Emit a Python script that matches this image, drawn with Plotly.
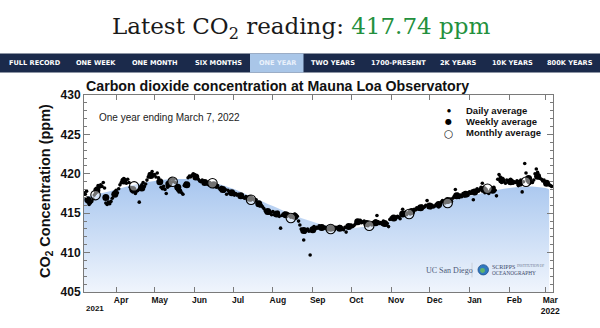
import pandas as pd
import plotly.graph_objects as go

# ---------------- data ----------------
start_date = "2021-03-07"
daily_ppm = [
    417.6, 417.4, 417.8, 416.4, 416.1, 416.3, 416.5,
    416.8, 417.3, 417.5, 418.2, 418.5, 418.3, 418.6,
    418.4, 418.9, 418.2, 416.3, 416.1, 416.4, 416.2,
    416.5, 416.9, 417.4, 417.7, 417.9, 417.6, 418.1,
    418.6, 418.9, 419.2, 419.4, 419.1, 418.8, 419.3,
    418.9, 418.3, 418.0, 417.7, 417.9, 417.5, 417.8,
    417.9, 416.4, 418.3, 418.6, 418.9, 418.4, 418.7,
    419.2, 419.6, 420.0, 419.7, 420.3, 419.8, 419.9,
    419.6, 420.1, 419.5, 418.9, 418.3, 418.1, 418.4,
    418.0, 417.5, 418.3, 418.9, 419.2, 419.4, 419.0,
    419.3, 418.9, 418.4, 417.9, 417.7, 417.9, 417.6,
    417.4, 418.5, 418.8, 418.6, 419.5, 419.7, 419.6,
    419.8, 420.0, 419.9, 419.6, 419.5, 419.3, 419.1,
    419.0, 419.2, 418.9, 418.8, 419.0, 418.7, 418.6,
    418.9, 418.5, 418.7, 418.4, 418.6, 418.3, 418.5,
    418.2, 418.0, 418.3, 417.9, 417.8, 418.0, 417.4,
    417.9, 417.6, 417.7, 417.5, 417.6, 417.3, 417.5,
    417.3, 417.4, 417.2, 417.1, 417.3, 417.0, 416.9,
    417.1, 416.8, 417.0, 416.9, 416.7, 416.9, 416.8,
    416.6, 416.7, 416.3, 416.1, 415.9, 416.0, 415.8,
    415.6, 415.3, 415.1, 415.2, 415.0, 415.1, 414.8,
    415.2, 414.8, 415.0, 414.9, 415.1, 414.6, 413.1,
    414.7, 414.9, 415.0, 414.8, 414.6, 414.9, 414.7,
    414.5, 414.8, 414.6, 414.9, 414.4, 414.6, 414.0,
    413.5, 413.0, 412.8, 411.6, 412.6, 412.9, 413.0,
    412.7, 409.7, 412.9, 413.1, 413.3, 413.0, 413.2,
    413.1, 413.4, 413.2, 413.0, 413.3, 413.1, 413.2,
    413.0, 412.9, 413.2, 413.1, 413.3, 413.0, 412.9,
    413.2, 413.1, 413.0, 413.3, 413.2, 413.0, 412.9,
    413.2, 412.6, 413.3, 413.4, 413.2, 413.5, 413.3,
    413.4, 413.6, 413.8, 414.0, 413.9, 414.1, 413.8,
    413.9, 414.0, 413.7, 413.5, 413.4, 413.6, 413.7,
    413.5, 413.8, 413.6, 414.0, 414.7, 413.9, 413.7,
    413.8, 413.6, 414.0, 413.8, 413.5, 413.7, 413.3,
    414.2, 414.4, 414.3, 414.5, 414.2, 414.4, 414.6,
    414.5, 414.3, 414.8, 415.5, 414.9, 415.1, 414.8,
    415.0, 415.2, 414.9, 415.1, 415.3, 415.5, 415.4,
    415.7, 415.5, 415.8, 415.6, 415.9, 415.7, 415.8,
    416.0, 416.6, 415.8, 415.9, 415.7, 416.0, 415.8,
    415.9, 416.1, 416.0, 415.8, 416.2, 416.4, 416.6,
    416.5, 416.3, 416.7, 416.4, 416.6, 416.8, 416.5,
    416.9, 417.1, 418.0, 417.2, 417.4, 417.0, 417.3,
    417.1, 417.5, 417.2, 417.4, 417.6, 417.3, 417.7,
    417.5, 417.8, 416.7, 417.6, 417.9, 418.1, 417.8,
    418.0, 418.3, 418.8, 417.9, 417.6, 418.0, 417.7,
    417.5, 417.8, 418.0, 418.2, 418.3, 417.9, 417.2,
    419.3, 419.9, 419.6, 418.9, 419.1, 419.0, 418.8,
    419.2, 419.0, 418.9, 419.3, 419.1, 418.8, 419.0,
    418.9, 419.1, 418.5, 419.0, 419.2, 417.7, 419.0,
    421.3, 420.1, 419.1, 418.9, 418.8, 419.0, 418.9,
    419.2, 420.0, 420.6, 420.2, 419.5, 419.4, 419.3,
    419.1, 419.2, 418.9, 418.8, 418.7, 418.6, 418.5,
    418.4,
]

weekly_start = "2021-03-10"
weekly_ppm = [
    416.7, 417.9, 417.0, 417.4, 419.1, 418.0, 418.2, 419.8, 419.0, 418.7,
    418.3, 418.6, 419.6, 418.9, 418.6, 418.0, 417.6, 417.2, 416.9, 416.2,
    415.2, 414.9, 414.8, 414.6, 412.8, 412.9, 413.2, 413.1, 413.1, 413.3,
    413.9, 413.7, 413.8, 413.7, 414.4, 414.9, 415.2, 415.7, 415.9, 416.1,
    416.6, 417.2, 417.4, 417.7, 418.0, 417.9, 419.2, 419.0, 418.8, 419.4,
    419.7, 418.8,
]

monthly_dates = ["2021-03-16", "2021-04-15", "2021-05-15", "2021-06-15",
                 "2021-07-15", "2021-08-15", "2021-09-15", "2021-10-15",
                 "2021-11-15", "2021-12-15", "2022-01-15", "2022-02-14"]
monthly_ppm = [417.3, 418.4, 419.0, 418.8, 416.7, 414.4,
               413.0, 413.4, 414.9, 416.3, 418.1, 419.0]

trend_dates = ["2021-03-07", "2021-03-15", "2021-04-01", "2021-04-15",
               "2021-05-01", "2021-05-15", "2021-06-01", "2021-06-15",
               "2021-07-01", "2021-07-15", "2021-08-01", "2021-08-15",
               "2021-09-01", "2021-09-15", "2021-10-01", "2021-10-15",
               "2021-11-01", "2021-11-15", "2021-12-01", "2021-12-15",
               "2022-01-01", "2022-01-15", "2022-02-01", "2022-02-15",
               "2022-03-01", "2022-03-04"]
trend_ppm = [417.0, 417.3, 418.0, 418.6, 419.1, 419.3, 419.3, 418.9,
             418.1, 417.1, 415.9, 414.9, 413.9, 413.3, 413.1, 413.4,
             414.0, 414.9, 415.8, 416.5, 417.2, 417.7, 418.2, 418.4,
             418.2, 418.0]

month_ticks = ["2021-04-01", "2021-05-01", "2021-06-01", "2021-07-01",
               "2021-08-01", "2021-09-01", "2021-10-01", "2021-11-01",
               "2021-12-01", "2022-01-01", "2022-02-01", "2022-03-01"]
month_labels = ["Apr", "May", "Jun", "Jul", "Aug", "Sep", "Oct", "Nov",
                "Dec", "Jan", "Feb", "Mar<br>2022"]
y_ticks = [405, 410, 415, 420, 425, 430]

nav_labels = ["FULL RECORD", "ONE WEEK", "ONE MONTH", "SIX MONTHS", "ONE YEAR",
              "TWO YEARS", "1700-PRESENT", "2K YEARS", "10K YEARS", "800K YEARS"]
nav_centers = [35, 96, 155, 218, 277, 333, 398, 458, 512, 570]
active_nav = "ONE YEAR"

daily_dates = pd.date_range(start_date, periods=len(daily_ppm), freq="D")
weekly_dates = pd.date_range(weekly_start, periods=len(weekly_ppm), freq="7D")

# ---------------- layout helpers ----------------
W, H = 600, 328
ML, MR, MT, MB = 84, 47, 95, 31
PW, PH = W - ML - MR, H - MT - MB


def px(x):
    return (x - ML) / PW


def py(y):
    return (H - MB - y) / PH


SANS = "Liberation Sans, Arial, sans-serif"
AX = "#7a7a7a"

fig = go.Figure()

fig.add_trace(go.Scatter(
    x=trend_dates, y=trend_ppm, mode="lines",
    line=dict(width=0, shape="spline", smoothing=1.0),
    fill="tozeroy",
    fillgradient=dict(type="vertical",
                      colorscale=[[0, "#f3f7fd"], [1, "#a9c7ef"]],
                      start=405, stop=419.3),
    hoverinfo="skip", name="trend"))

fig.add_trace(go.Scatter(
    x=daily_dates, y=daily_ppm, mode="markers", name="Daily average",
    marker=dict(size=3.6, color="black")))

fig.add_trace(go.Scatter(
    x=weekly_dates, y=weekly_ppm, mode="markers", name="Weekly average",
    marker=dict(size=7, color="black")))

fig.add_trace(go.Scatter(
    x=monthly_dates, y=monthly_ppm, mode="markers", name="Monthly average",
    marker=dict(size=9.5, color="rgba(255,255,255,0.45)",
                line=dict(color="black", width=1.1))))

shapes = []
annotations = []

# header title
annotations.append(dict(
    xref="paper", yref="paper", x=px(301), y=py(26), xanchor="center", yanchor="middle",
    text='Latest CO<sub>2</sub> reading: <span style="color:#23903d">417.74 ppm</span>',
    showarrow=False, font=dict(family="DejaVu Serif, serif", size=23, color="#1a1a1a")))

# navigation bar
shapes.append(dict(type="rect", xref="paper", yref="paper", x0=px(0), x1=px(600),
                   y0=py(72), y1=py(52.5), fillcolor="#1b2a4b", line=dict(width=0)))
shapes.append(dict(type="rect", xref="paper", yref="paper", x0=px(250), x1=px(303.5),
                   y0=py(72), y1=py(52.5), fillcolor="#a9c6e8", line=dict(width=0)))
for lab, cx in zip(nav_labels, nav_centers):
    annotations.append(dict(
        xref="paper", yref="paper", x=px(cx), y=py(62.3), xanchor="center", yanchor="middle",
        text=lab, showarrow=False,
        font=dict(family="DejaVu Sans, sans-serif", size=6.6, weight="bold",
                  color="#e9f1fb" if lab == active_nav else "#ffffff")))

# chart title
annotations.append(dict(
    xref="paper", yref="paper", x=px(84), y=py(85.5), xanchor="left", yanchor="middle",
    text="Carbon dioxide concentration at Mauna Loa Observatory", showarrow=False,
    font=dict(family=SANS, size=14.2, weight="bold", color="#111")))

# subtitle
annotations.append(dict(
    xref="paper", yref="paper", x=px(97), y=py(118.5), xanchor="left", yanchor="middle",
    text="One year ending March 7, 2022", showarrow=False,
    font=dict(family=SANS, size=10, color="#222")))

# y title
annotations.append(dict(
    xref="paper", yref="paper", x=px(46), y=py(193.5), xanchor="center", yanchor="middle",
    text="CO<sub>2</sub> Concentration (ppm)", textangle=-90, showarrow=False,
    font=dict(family=SANS, size=14.5, weight="bold", color="#111")))

# year label at left
annotations.append(dict(
    xref="paper", yref="paper", x=px(84), y=py(313.5), xanchor="left", yanchor="middle",
    text="2021", showarrow=False,
    font=dict(family=SANS, size=8, weight="bold", color="#111")))

# legend (text glyphs)
leg = [("\u25CF", 4.5, "Daily average", 111.0),
       ("\u25CF", 8.0, "Weekly average", 122.3),
       ("\u25CB", 10.5, "Monthly average", 133.8)]
for sym, sz, lab, yy in leg:
    annotations.append(dict(
        xref="paper", yref="paper", x=px(448.5), y=py(yy), xanchor="center", yanchor="middle",
        text=sym, showarrow=False, font=dict(family="DejaVu Sans", size=sz, color="black")))
    annotations.append(dict(
        xref="paper", yref="paper", x=px(464), y=py(yy), xanchor="left", yanchor="middle",
        text=lab, showarrow=False,
        font=dict(family=SANS, size=9.5, weight="bold", color="#111")))

# logos
annotations.append(dict(
    xref="paper", yref="paper", x=px(449), y=py(274.5), xanchor="center", yanchor="middle",
    text="UC San Diego", showarrow=False,
    font=dict(family="Liberation Serif, serif", size=8, color="#4d5a78")))
shapes.append(dict(type="line", xref="paper", yref="paper", x0=px(472), x1=px(472),
                   y0=py(267), y1=py(282), line=dict(color="#c4c8d0", width=0.8)))
shapes.append(dict(type="circle", xref="paper", yref="paper", x0=px(478), x1=px(488.5),
                   y0=py(279.5), y1=py(269), fillcolor="#2f78c0",
                   line=dict(color="#1e4f8a", width=0.8)))
shapes.append(dict(type="circle", xref="paper", yref="paper", x0=px(480), x1=px(485),
                   y0=py(277.5), y1=py(272.5), fillcolor="#5fb36a",
                   line=dict(width=0)))
annotations.append(dict(
    xref="paper", yref="paper", x=px(489.5), y=py(271.2), xanchor="left", yanchor="middle",
    text="SCRIPPS", showarrow=False,
    font=dict(family="Liberation Serif, serif", size=6, color="#3d4a6b")))
annotations.append(dict(
    xref="paper", yref="paper", x=px(515), y=py(270.5), xanchor="left", yanchor="middle",
    text="INSTITUTION OF", showarrow=False,
    font=dict(family="Liberation Serif, serif", size=3.5, color="#6a7590")))
annotations.append(dict(
    xref="paper", yref="paper", x=px(489.5), y=py(277.6), xanchor="left", yanchor="middle",
    text="OCEANOGRAPHY", showarrow=False,
    font=dict(family="Liberation Serif, serif", size=5.3, color="#3d4a6b")))

fig.update_layout(
    width=W, height=H, margin=dict(l=ML, r=MR, t=MT, b=MB),
    paper_bgcolor="white", plot_bgcolor="white", showlegend=False,
    shapes=shapes, annotations=annotations,
    xaxis=dict(type="date", range=["2021-03-07", "2022-03-07"],
               tickmode="array", tickvals=month_ticks, ticktext=month_labels,
               ticks="inside", ticklen=5, tickwidth=1, tickcolor=AX,
               showline=True, linecolor=AX, linewidth=1, mirror="ticks",
               showgrid=False, zeroline=False, ticklabelshift=5,
               tickfont=dict(family=SANS, size=8.5, weight="bold", color="#111")),
    yaxis=dict(range=[405, 430], tickmode="array", tickvals=y_ticks,
               ticks="inside", ticklen=6, tickwidth=1, tickcolor=AX,
               showline=True, linecolor=AX, linewidth=1, mirror="ticks",
               showgrid=False, zeroline=False,
               tickfont=dict(family=SANS, size=12, weight="bold", color="#111"),
               minor=dict(dtick=1, tick0=0, ticks="inside", ticklen=3,
                          tickcolor=AX, showgrid=False)),
)

fig.write_html("out.html")
